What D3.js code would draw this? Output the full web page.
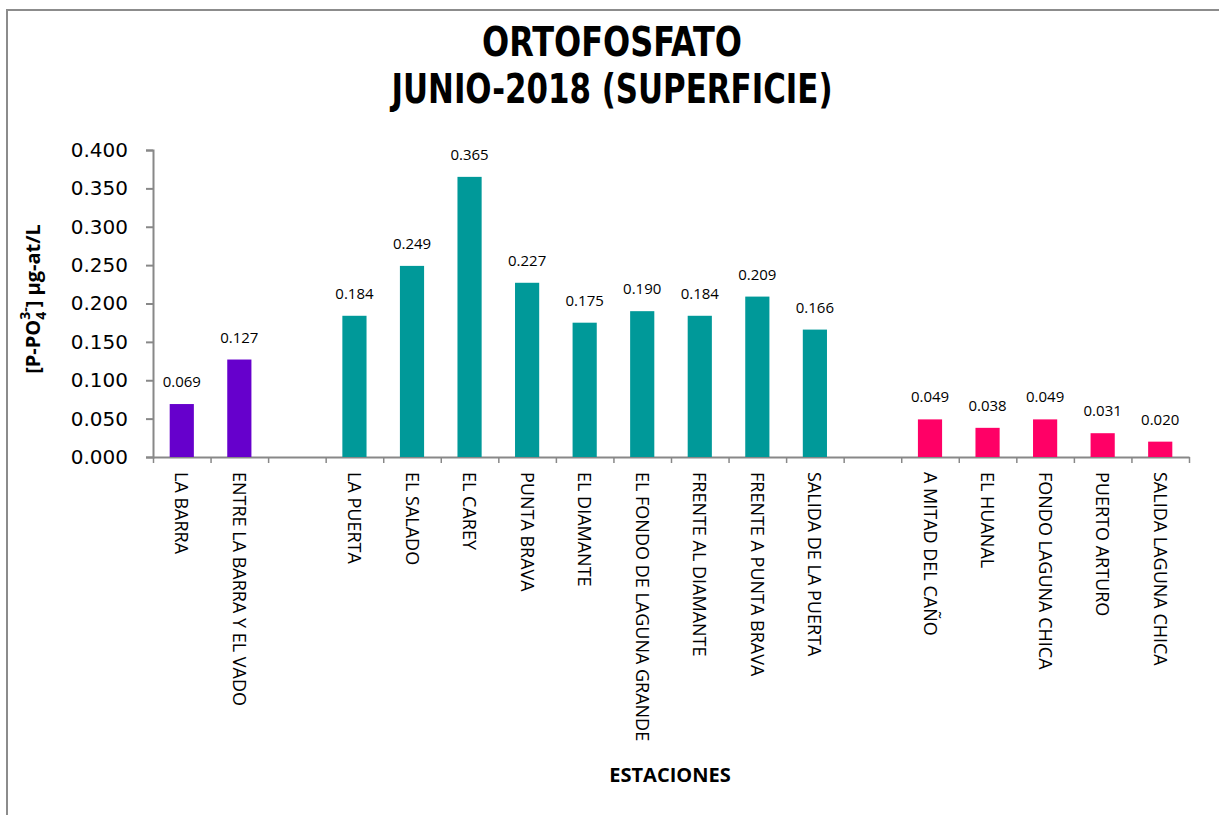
<!DOCTYPE html>
<html lang='es'>
<head>
	<meta charset='utf-8'>
	<title>Ortofosfato junio 2018</title>
	<script src="https://d3js.org/d3.v7.min.js"></script>
	<style>
		body{margin:0;background:#fff;}
		text{font-family:"Open Sans","Noto Sans",sans-serif;fill:#000;}
	</style>
</head>
<body>
<div id='chart'></div>
<script type='text/javascript'>
	// datos
	const estaciones = ["LA BARRA","ENTRE LA BARRA Y EL VADO","","LA PUERTA","EL SALADO","EL CAREY","PUNTA BRAVA","EL DIAMANTE","EL FONDO DE LAGUNA GRANDE","FRENTE AL DIAMANTE","FRENTE A PUNTA BRAVA","SALIDA DE LA PUERTA","","A MITAD DEL CAÑO","EL HUANAL","FONDO LAGUNA CHICA","PUERTO ARTURO","SALIDA LAGUNA CHICA"];
	const valores = [0.069,0.127,null,0.184,0.249,0.365,0.227,0.175,0.190,0.184,0.209,0.166,null,0.049,0.038,0.049,0.031,0.020];
	const grupos = ["a","a",null,"b","b","b","b","b","b","b","b","b",null,"c","c","c","c","c"];
	const yTicks = [0,0.05,0.1,0.15,0.2,0.25,0.3,0.35,0.4];
	const titulo = ["ORTOFOSFATO","JUNIO-2018 (SUPERFICIE)"];

	const colores = {a:"#6600cc",b:"#009999",c:"#ff0066"};
	const svg_block = {width:1219,height:815};
	const plot = {left:153,right:1189,top:150,bottom:457};
	const axisColor = "#888";

	let svg = d3.select("#chart")
				.append("svg")
					.attr("width",svg_block.width)
					.attr("height",svg_block.height);

	//marco del grafico
	svg.append("path")
		.attr("d",`M7,${svg_block.height}V10H${svg_block.width}`)
		.attr("fill","none")
		.attr("stroke","#8c8c8c")
		.attr("stroke-width",2);

	//titulo
	titulo.forEach(function(t,i){
		svg.append("text")
			.attr("x",612)
			.attr("y",56 + i*47)
			.attr("text-anchor","middle")
			.attr("textLength",i==0 ? 260 : 441)
			.attr("lengthAdjust","spacingAndGlyphs")
			.style("font-family",'"Liberation Sans Narrow","DejaVu Sans Condensed",sans-serif')
			.style("font-weight","bold")
			.style("font-size","40px")
			.text(t);
	});

	let idx = d3.range(estaciones.length);
	let x = d3.scaleBand()
				.domain(idx)
				.range([plot.left,plot.right])
				.paddingInner(0.58)
				.paddingOuter(0.29);
	let xTicks = d3.scaleLinear()
				.domain([0,estaciones.length])
				.range([plot.left,plot.right]);
	let y = d3.scaleLinear()
				.domain([0,0.4])
				.range([plot.bottom,plot.top]);

	//eje y
	let gy = svg.append("g")
				.attr("transform",`translate(${plot.left},0)`)
				.call(d3.axisLeft(y).tickValues(yTicks).tickFormat(d3.format(".3f")).tickSize(7).tickPadding(18));
	gy.select(".domain").attr("stroke",axisColor).attr("stroke-width",2);
	gy.selectAll(".tick line").attr("stroke",axisColor).attr("stroke-width",2);
	gy.selectAll(".tick text").style("font-size","20px").style("font-family",'"DejaVu Sans",sans-serif');

	//eje x
	let gx = svg.append("g")
				.attr("transform",`translate(0,${plot.bottom})`)
				.call(d3.axisBottom(xTicks).tickValues(d3.range(estaciones.length+1)).tickFormat("").tickSizeInner(6).tickSizeOuter(0));
	gx.select(".domain").attr("stroke",axisColor).attr("stroke-width",2);
	gx.selectAll(".tick line").attr("stroke",axisColor).attr("stroke-width",1.5);

	//barras
	let data = idx.filter(function(i){return valores[i] !== null;});
	svg.append("g")
		.selectAll("rect")
		.data(data)
		.enter()
		.append("rect")
			.attr("x",function(i){return x(i);})
			.attr("y",function(i){return y(valores[i]);})
			.attr("width",x.bandwidth())
			.attr("height",function(i){return plot.bottom - y(valores[i]);})
			.attr("fill",function(i){return colores[grupos[i]];});

	//etiquetas de valores
	svg.append("g")
		.selectAll("text")
		.data(data)
		.enter()
		.append("text")
			.attr("x",function(i){return x(i) + x.bandwidth()/2;})
			.attr("y",function(i){return y(valores[i]) - 17;})
			.attr("text-anchor","middle")
			.style("font-size","15px")
			.text(function(i){return d3.format(".3f")(valores[i]);});

	//nombres de estaciones
	svg.append("g")
		.selectAll("text")
		.data(idx)
		.enter()
		.append("text")
			.attr("transform",function(i){return `translate(${x(i) + x.bandwidth()/2},472) rotate(90)`;})
			.attr("dy","0.36em")
			.attr("text-anchor","start")
			.style("font-size","18px")
			.text(function(i){return estaciones[i];});

	//titulo eje x
	svg.append("text")
		.attr("x",670)
		.attr("y",782)
		.attr("text-anchor","middle")
		.style("font-size","20px")
		.style("font-weight","bold")
		.text("ESTACIONES");

	//titulo eje y
	let ylab = svg.append("text")
		.attr("transform","translate(40,299) rotate(-90)")
		.attr("text-anchor","middle")
		.style("font-size","20px")
		.style("font-weight","bold");
	ylab.append("tspan").text("[P-PO");
	ylab.append("tspan").attr("dy",6).style("font-size","14px").text("4");
	ylab.append("tspan").attr("dy",-16).attr("dx",-8).style("font-size","14px").text("3-");
	ylab.append("tspan").attr("dy",10).text("] µg-at/L");
</script>
</body>
</html>
